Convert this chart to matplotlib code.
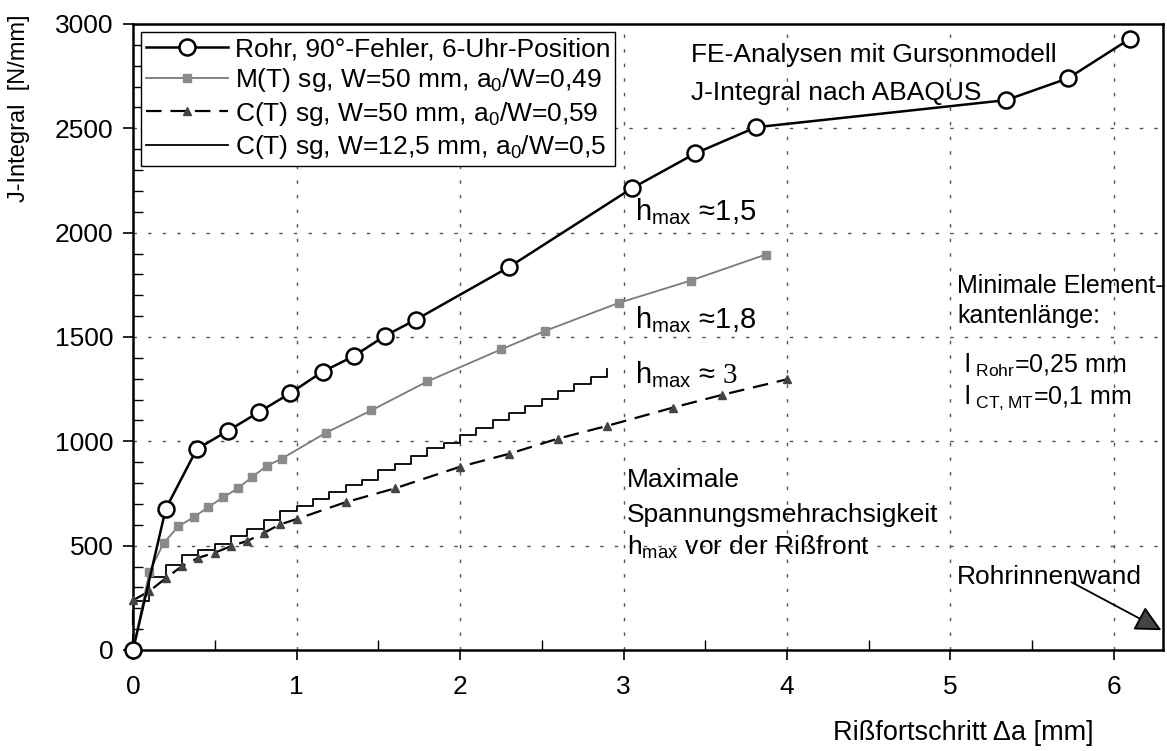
import matplotlib
matplotlib.use('Agg')
import matplotlib.pyplot as plt
import numpy as np
from matplotlib.ticker import MultipleLocator

plt.rcParams['font.family'] = ['Liberation Sans', 'DejaVu Sans']
plt.rcParams['mathtext.fontset'] = 'custom'
plt.rcParams['mathtext.rm'] = 'Liberation Serif'

# Rohr, 90°-Fehler, 6-Uhr-Position
rohr_da = [0, 0.2, 0.39, 0.58, 0.77, 0.96, 1.16, 1.35, 1.54, 1.73, 2.30, 3.05, 3.44, 3.81, 5.34, 5.72, 6.10]
rohr_j = [0, 676, 963, 1050, 1140, 1230, 1334, 1408, 1505, 1583, 1835, 2212, 2380, 2505, 2635, 2740, 2930]

# M(T) sg, W=50 mm
mt_da = [0, 0.10, 0.187, 0.276, 0.37, 0.459, 0.55, 0.64, 0.73, 0.82, 0.91, 1.18, 1.457, 1.80, 2.25, 2.52, 2.97, 3.41, 3.87]
mt_j = [0, 374, 512, 592, 636, 684, 731, 774, 830, 883, 917, 1041, 1148, 1287, 1440, 1529, 1663, 1770, 1895]

# C(T) sg, W=50 mm
ct50_da = [0, 0, 0.1, 0.2, 0.3, 0.4, 0.5, 0.6, 0.7, 0.8, 0.9, 1.0, 1.3, 1.6, 2.0, 2.3, 2.6, 2.9, 3.3, 3.6, 4.0]
ct50_j = [0, 238, 282, 344, 402, 442, 466, 498, 523, 561, 602, 627, 708, 774, 878, 940, 1013, 1074, 1161, 1222, 1297]

# C(T) sg, W=12,5 mm (Knotenfreigabe in 0,1-mm-Schritten)
ct12_da = [0.0, 0.1, 0.2, 0.3, 0.4, 0.5, 0.6, 0.7, 0.8, 0.9, 1.0, 1.1, 1.2, 1.3, 1.4,
           1.5, 1.6, 1.7, 1.8, 1.9, 2.0, 2.1, 2.2, 2.3, 2.4, 2.5, 2.6, 2.7, 2.8, 2.9]
ct12_j = [235, 350, 405, 453, 478, 508, 548, 580, 621, 664, 692, 724, 757, 791, 817,
          863, 889, 929, 968, 993, 1029, 1065, 1100, 1135, 1170, 1205, 1240, 1275, 1310, 1348]

labels = ['Rohr, 90°-Fehler, 6-Uhr-Position',
          r'M(T) sg, W=50 mm, $\mathregular{a_0}$/W=0,49',
          r'C(T) sg, W=50 mm, $\mathregular{a_0}$/W=0,59',
          r'C(T) sg, W=12,5 mm, $\mathregular{a_0}$/W=0,5']

fig = plt.figure(figsize=(11.67, 7.51), dpi=100)
ax = fig.add_axes([0.114, 0.1345, 0.8826, 0.8336])

ax.plot(ct12_da, ct12_j, color='black', lw=1.3, drawstyle='steps-post', label=labels[3], zorder=3)
ax.plot(ct50_da, ct50_j, color='black', lw=1.6, ls=(0, (7, 4)), marker='^', ms=6,
        mfc='#444444', mec='#444444', label=labels[2], zorder=3, clip_on=False)
ax.plot(mt_da, mt_j, color='#7a7a7a', lw=1.3, marker='s', ms=6, mfc='#8a8a8a',
        mec='#8a8a8a', label=labels[1], zorder=4, clip_on=False)
ax.plot(rohr_da, rohr_j, color='black', lw=1.8, marker='o', ms=11.5, mfc='white',
        mec='black', mew=1.8, label=labels[0], zorder=5, clip_on=False)

ax.set_xlim(0, 6.3)
ax.set_ylim(0, 3000)
ax.xaxis.set_major_locator(MultipleLocator(1))
ax.xaxis.set_minor_locator(MultipleLocator(0.5))
ax.yaxis.set_major_locator(MultipleLocator(500))
ax.yaxis.set_minor_locator(MultipleLocator(100))
ax.tick_params(which='major', direction='out', length=7, width=1.2, labelsize=19, pad=11)
ax.tick_params(which='minor', direction='in', length=7, width=1.0)
ax.tick_params(axis='y', which='major', pad=7)

for sp in ax.spines.values():
    sp.set_linewidth(1.8)

ax.grid(True, which='major', color='#555555', lw=1.0, ls=(0, (2.5, 8)))
ax.set_axisbelow(True)

# Legende in der Reihenfolge der Vorlage
handles, labs = ax.get_legend_handles_labels()
order = [labs.index(l) for l in labels]
leg = ax.legend([handles[i] for i in order], [labs[i] for i in order],
                loc='upper left', fontsize=19, handlelength=3.1, numpoints=1,
                fancybox=False, edgecolor='black', framealpha=1,
                borderaxespad=0.3, borderpad=0.2, labelspacing=0.2, handletextpad=0.25)
leg.get_frame().set_linewidth(1.0)
leg.set_zorder(10)

ax.set_ylabel('J-Integral  [N/mm]', fontsize=17)
ax.yaxis.set_label_coords(-0.1, 0.865)
ax.set_xlabel('Rißfortschritt Δa [mm]', fontsize=19.5)
ax.xaxis.set_label_coords(0.806, -0.112)

fs = 19
ax.text(3.41, 2850, 'FE-Analysen mit Gursonmodell', fontsize=fs, va='center')
ax.text(3.41, 2668, 'J-Integral nach ABAQUS', fontsize=fs, va='center')
ax.text(3.07, 2100, r'$\mathregular{h_{max}}$ ≈1,5', fontsize=21, va='center')
ax.text(3.07, 1585, r'$\mathregular{h_{max}}$ ≈1,8', fontsize=21, va='center')
ax.text(3.07, 1320, r'$\mathregular{h_{max}}$ ≈ $\mathrm{3}$', fontsize=21, va='center')
ax.text(3.02, 815, 'Maximale', fontsize=fs, va='center')
ax.text(3.02, 648, 'Spannungsmehrachsigkeit', fontsize=fs, va='center')
ax.text(3.02, 492, r'$\mathregular{h_{max}}$ vor der Rißfront', fontsize=fs, va='center')
ax.text(5.04, 1745, 'Minimale Element-', fontsize=18, va='center')
ax.text(5.04, 1602, 'kantenlänge:', fontsize=18, va='center')
ax.text(5.08, 1366, r'$\mathregular{l_{\ Rohr}}$=0,25 mm', fontsize=18, va='center')
ax.text(5.08, 1207, r'$\mathregular{l_{\ CT,MT}}$=0,1 mm', fontsize=18, va='center')
ax.text(5.04, 352, 'Rohrinnenwand', fontsize=fs, va='center')
ax.annotate('', xy=(6.29, 95), xytext=(5.74, 325),
            arrowprops=dict(arrowstyle='-|>', color='black', lw=1.3, fc='#444444',
                            mutation_scale=40, shrinkA=0, shrinkB=0))

fig.savefig('out.png', dpi=100)
